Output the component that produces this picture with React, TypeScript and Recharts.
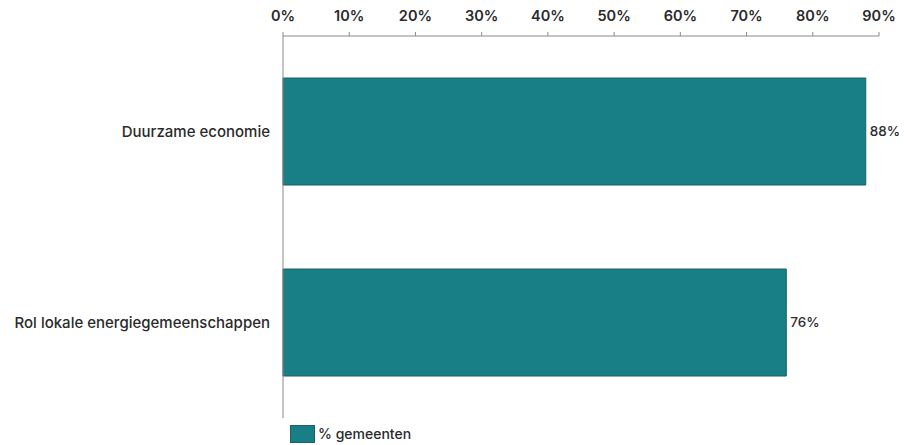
import React from "react";
import { BarChart, Bar, XAxis, YAxis, LabelList, Legend } from "recharts";

const categories = ["Duurzame economie", "Rol lokale energiegemeenschappen"];
const values = [0.88, 0.76];
const ticks = [0, 0.1, 0.2, 0.3, 0.4, 0.5, 0.6, 0.7, 0.8, 0.9];
const seriesName = "% gemeenten";

const data = categories.map((c, i) => ({ name: c, value: values[i] }));

const FONT = "Inter, 'Noto Sans', sans-serif";
const TEXT = "#2a2a2a";
const BAR = "#197f86";
const BORDER = "#1d5f63";
const pct = (v: any) => `${Math.round(Number(v) * 100)}%`;

const LegendContent = (props: any) => {
  const items = props.payload || [];
  return (
    <div style={{ display: "flex", alignItems: "center", fontFamily: FONT, height: 19 }}>
      {items.map((it: any) => (
        <div key={it.value} style={{ display: "flex", alignItems: "center" }}>
          <div
            style={{
              width: 23,
              height: 16,
              background: BAR,
              border: `1px solid ${BORDER}`,
              marginRight: 3,
            }}
          />
          <span style={{ fontSize: 14, color: TEXT, fontWeight: 500 }}>{it.value}</span>
        </div>
      ))}
    </div>
  );
};

export default function App() {
  return (
    <div style={{ position: "absolute", left: 0, top: 0, background: "#fff" }}>
      <BarChart
        width={904}
        height={445}
        data={data}
        layout="vertical"
        margin={{ top: 0, right: 25, bottom: 8, left: 0 }}
        barCategoryGap="22%"
      >
        <XAxis
          type="number"
          orientation="top"
          domain={[0, 0.9]}
          ticks={ticks}
          tickFormatter={pct}
          height={36}
          axisLine={{ stroke: "#8a8a8a" }}
          tickLine={{ stroke: "#8a8a8a" }}
          tickSize={4}
          tickMargin={11}
          interval={0}
          tick={{ fill: TEXT, fontSize: 14.5, fontFamily: FONT, fontWeight: 600 }}
        />
        <YAxis
          type="category"
          dataKey="name"
          width={283}
          axisLine={{ stroke: "#8a8a8a" }}
          tickLine={false}
          tickSize={0}
          tickMargin={13}
          tick={{ fill: TEXT, fontSize: 15, fontFamily: FONT, fontWeight: 500 }}
        />
        <Legend
          layout="horizontal"
          verticalAlign="bottom"
          align="left"
          content={LegendContent}
          wrapperStyle={{ left: 290, bottom: 2, width: 300 }}
        />
        <Bar
          dataKey="value"
          name={seriesName}
          fill={BAR}
          stroke={BORDER}
          strokeWidth={1}
          isAnimationActive={false}
        >
          <LabelList
            dataKey="value"
            position="right"
            offset={4}
            formatter={pct}
            style={{ fill: TEXT, fontSize: 13.5, fontFamily: FONT, fontWeight: 500 }}
          />
        </Bar>
      </BarChart>
    </div>
  );
}
